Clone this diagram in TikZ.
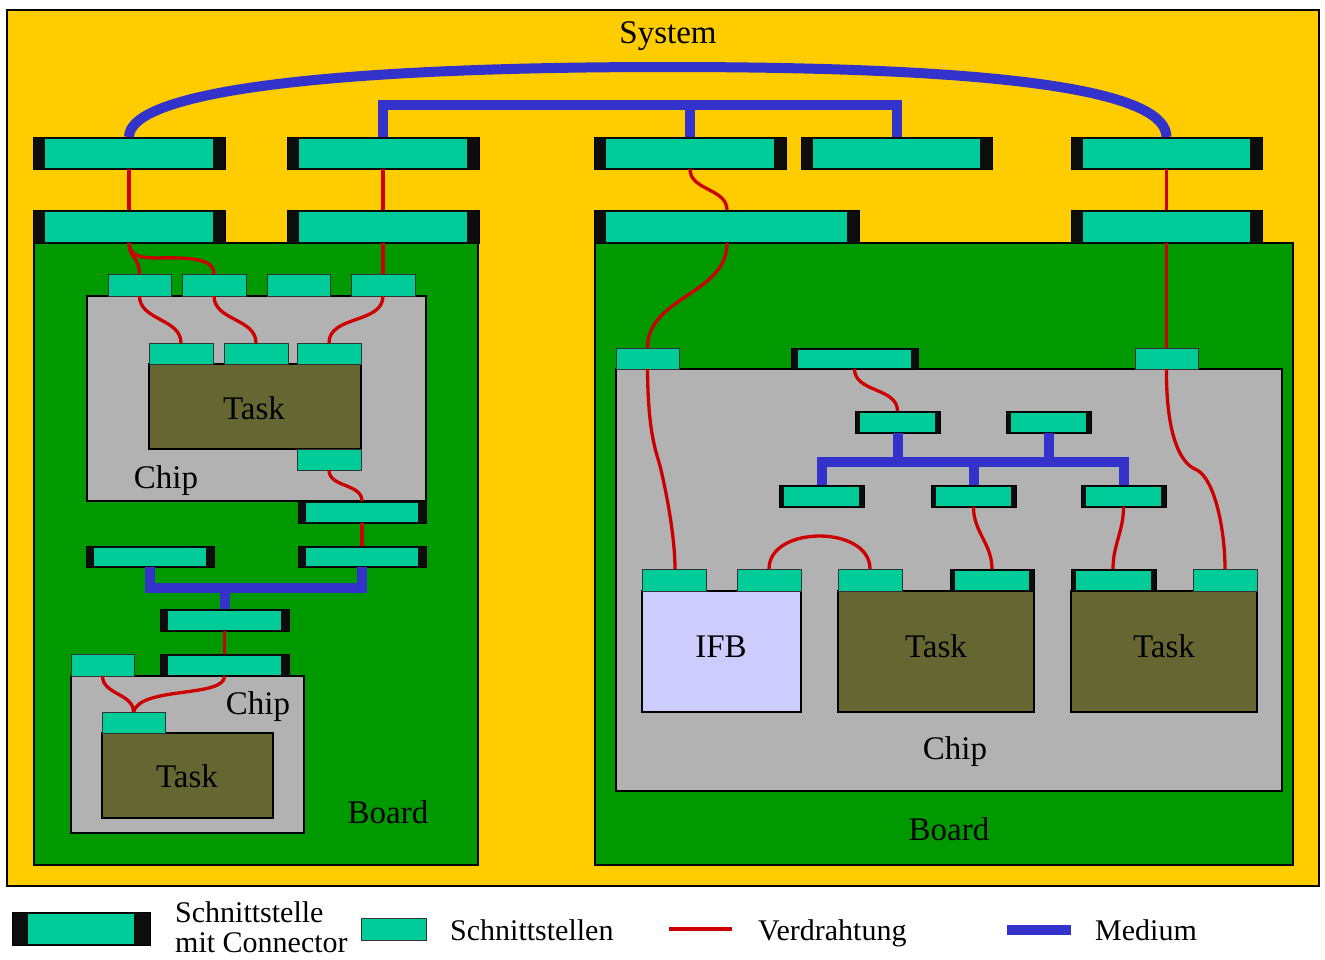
\documentclass[tikz,border=0pt]{standalone}
\usepackage{fontspec}
\setmainfont{Liberation Serif}
\usetikzlibrary{fit,calc}
\definecolor{sysy}{HTML}{FFCC00}
\definecolor{boardg}{HTML}{009900}
\definecolor{chipg}{HTML}{B2B2B2}
\definecolor{ifc}{HTML}{00CC99}
\definecolor{taskc}{HTML}{666633}
\definecolor{ifbc}{HTML}{CCCCFF}
\definecolor{wirec}{HTML}{CC0000}
\definecolor{medc}{HTML}{3333CC}
\tikzset{
 box/.style={draw=black, line width=1.2pt, inner sep=0pt, outer sep=0pt},
 sysbox/.style={box, fill=sysy},
 boardbox/.style={box, fill=boardg},
 chipbox/.style={box, fill=chipg},
 taskbox/.style={box, fill=taskc},
 ifbbox/.style={box, fill=ifbc},
 ifacebox/.style={draw=black!80, line width=1pt, fill=ifc, inner sep=0pt, outer sep=0pt},
 connbox/.style={draw=black, line width=0.8pt, fill=black!95, inner sep=0pt, outer sep=0pt},
 wire/.style={draw=wirec, line width=3.3pt},
 medium/.style={draw=medc, line width=10pt, line join=miter},
 lbl/.style={anchor=base, inner sep=0pt, font=\fontsize{33}{36}\selectfont},
 leg/.style={anchor=base west, inner sep=0pt, font=\fontsize{30}{33}\selectfont},
}
\newcommand\mkconn[6]{%
  \node[connbox, fit={(#2,#3) (#4,#5)}] (#1) {};
  \fill[ifc] ($(#1.north west)+(#6,1.5)$) rectangle ($(#1.south east)+(-#6,-1.5)$);}
\newcommand\mkiface[5]{%
  \node[ifacebox, fit={(#2,#3) (#4,#5)}] (#1) {};}
\begin{document}
\begin{tikzpicture}[x=1pt,y=-1pt]
\fill[white] (0,0) rectangle (1325,959);
\useasboundingbox (0,0) rectangle (1325,959);
% System
\node[sysbox, fit={(7,10) (1319,886)}] (sys) {};
\node[lbl] (tsys) at (668,43) {System};
% Boards
\node[boardbox, fit={(34,243) (478,865)}] (bl) {};
\node[boardbox, fit={(595,243) (1293,865)}] (br) {};
% top connectors
\mkconn{a1}{33}{137}{225}{169}{12}
\mkconn{a2}{287}{137}{479}{169}{12}
\mkconn{a3}{594}{137}{786}{169}{12}
\mkconn{a4}{801}{137}{992}{169}{12}
\mkconn{a5}{1071}{137}{1262}{169}{12}
\mkconn{b1}{33}{210}{225}{243}{12}
\mkconn{b2}{287}{210}{479}{243}{12}
\mkconn{b3}{594}{210}{859}{243}{12}
\mkconn{b5}{1071}{210}{1262}{243}{12}
% Left board
\node[chipbox, fit={(87,296) (426,501)}] (chip1) {};
\mkiface{i1}{108}{274}{171}{296}
\mkiface{i2}{182}{274}{246}{296}
\mkiface{i3}{267}{274}{330}{296}
\mkiface{i4}{351}{274}{415}{296}
\node[taskbox, fit={(149,364) (361,449)}] (task1) {};
\mkiface{t1}{149}{343}{213}{364}
\mkiface{t2}{224}{343}{288}{364}
\mkiface{t3}{297}{343}{361}{364}
\mkiface{t4}{297}{449}{361}{470}
\node[lbl] (ttask1) at (254,419) {Task};
\node[lbl] (tchip1) at (166,488) {Chip};
\mkconn{c1}{298}{501}{426}{523}{8}
\mkconn{c2}{298}{546}{426}{567}{8}
\mkconn{c3}{86}{546}{214}{567}{8}
\mkconn{c4}{160}{609}{289}{631}{8}
\node[chipbox, fit={(71,676) (304,833)}] (chip2) {};
\mkconn{c5}{160}{654}{289}{676}{8}
\mkiface{p}{71}{654}{134}{676}
\node[taskbox, fit={(102,733) (273,818)}] (task2) {};
\mkiface{t5}{102}{712}{165}{733}
\node[lbl] (tchip2) at (258,714) {Chip};
\node[lbl] (ttask2) at (187,787) {Task};
\node[lbl] (tboard1) at (388,823) {Board};
% Right board
\node[chipbox, fit={(616,369) (1282,791)}] (chip3) {};
\mkiface{r1}{616}{348}{679}{369}
\mkconn{rc}{791}{348}{918}{369}{7}
\mkiface{r2}{1135}{348}{1198}{369}
\mkconn{m1}{855}{411}{940}{433}{5}
\mkconn{m2}{1006}{411}{1091}{433}{5}
\mkconn{n1}{779}{485}{864}{507}{5}
\mkconn{n2}{931}{485}{1016}{507}{5}
\mkconn{n3}{1081}{485}{1166}{507}{5}
\node[ifbbox, fit={(642,591) (801,712)}] (ifb) {};
\node[taskbox, fit={(838,591) (1034,712)}] (taskA) {};
\node[taskbox, fit={(1071,591) (1257,712)}] (taskB) {};
\mkiface{f1}{642}{569}{706}{591}
\mkiface{f2}{737}{569}{801}{591}
\mkiface{g1}{838}{569}{902}{591}
\mkconn{g2}{950}{569}{1034}{591}{5}
\mkconn{h1}{1071}{569}{1156}{591}{5}
\mkiface{h2}{1193}{569}{1257}{591}
\node[lbl] (tifb) at (721,657) {IFB};
\node[lbl] (ttaskA) at (936,657) {Task};
\node[lbl] (ttaskB) at (1164,657) {Task};
\node[lbl] (tchip3) at (955,759) {Chip};
\node[lbl] (tboard2) at (949,840) {Board};
% wires left
\draw[wire] (a1.south) -- (b1.north);
\draw[wire] (a2.south) -- (b2.north);
\draw[wire] (b1.south) .. controls (129,258) and (139,256) .. (i1.north);
\draw[wire] (b1.south) .. controls (131,262) and (150,257) .. (180,258) .. controls (205,259) and (214,264) .. (i2.north);
\draw[wire] (b2.south) -- (i4.north);
\draw[wire] (i1.south) to[out=-90,in=90] (t1.north);
\draw[wire] (i2.south) to[out=-90,in=90] (t2.north);
\draw[wire] (i4.south) to[out=-90,in=90] (t3.north);
\draw[wire] (t4.south) to[out=-90,in=90] (c1.north);
\draw[wire] (c1.south) -- (c2.north);
\draw[wire] (c4.south) -- (c5.north);
\draw[wire] ([xshift=31.5pt]p.south west) to[out=-90,in=90] (t5.north);
\draw[wire] (c5.south) .. controls (225,698) and (140,686) .. (t5.north);
% wires right
\draw[wire] (a3.south) to[out=-90,in=90] ([xshift=133pt]b3.north west);
\draw[wire] ([xshift=133pt]b3.south west) to[out=-90,in=90] (r1.north);
\draw[wire] (r1.south) .. controls (648,440) and (658,455) .. (661,470) .. controls (668,500) and (675,540) .. ([xshift=33pt]f1.north west);
\draw[wire] (rc.south) to[out=-90,in=90] (m1.north);
\draw[wire] (f2.north) .. controls (769,525) and (870,525) .. (g1.north);
\draw[wire] (n2.south) to[out=-90,in=90] ([xshift=42pt]g2.north west);
\draw[wire] (n3.south) to[out=-90,in=90] ([xshift=42pt]h1.north west);
\draw[wire] (a5.south) -- (b5.north);
\draw[wire] (b5.south) -- (r2.north);
\draw[wire] (r2.south) .. controls (1166,420) and (1175,462) .. (1197,470) .. controls (1215,480) and (1225,530) .. (h2.north);
% media
\draw[medium] (a1.north) .. controls (129,95) and (300,67) .. (668,67) .. controls (1036,67) and (1166,95) .. (a5.north);
\coordinate (tb) at (690,105);
\draw[medium] (a2.north) |- (tb) -| (a4.north);
\draw[medium] (a3.north) -- (a3.north |- tb);
\coordinate (lb) at (224.5,588);
\draw[medium] (c3.south) |- (lb) -| (c2.south);
\draw[medium] (lb) -- (c4.north);
\coordinate (rb) at (973.5,462);
\draw[medium] (n1.north) |- (rb) -| (n3.north);
\draw[medium] (n2.north) -- (n2.north |- rb);
\draw[medium] (m1.south) -- (m1.south |- rb);
\draw[medium] (m2.south) -- (m2.south |- rb);
% legend
\mkconn{lc}{12}{912}{150}{945}{16}
\node[leg] (l1a) at (175,922) {Schnittstelle};
\node[leg] (l1b) at (175,952) {mit Connector};
\mkiface{li}{361}{918}{426}{940}
\node[leg] (l2) at (450,940) {Schnittstellen};
\coordinate (lr1) at (669,929);
\coordinate (lr2) at (732,929);
\draw[wire] (lr1) -- (lr2);
\node[leg] (l3) at (758,940) {Verdrahtung};
\node[fill=medc, inner sep=0pt, outer sep=0pt, fit={(1007,925) (1071,935)}] (lm) {};
\node[leg] (l4) at (1095,940) {Medium};
\end{tikzpicture}
\end{document}
